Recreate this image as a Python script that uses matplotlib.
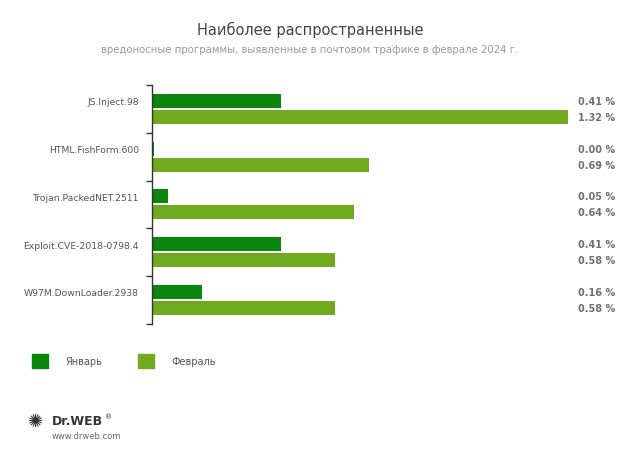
import matplotlib.pyplot as plt
import numpy as np
from matplotlib.patches import Patch

categories = ["JS.Inject.98", "HTML.FishForm.600", "Trojan.PackedNET.2511",
              "Exploit.CVE-2018-0798.4", "W97M.DownLoader.2938"]
jan = [0.41, 0.006, 0.05, 0.41, 0.16]
feb = [1.32, 0.69, 0.64, 0.58, 0.58]
jan_labels = ["0.41 %", "0.00 %", "0.05 %", "0.41 %", "0.16 %"]
feb_labels = ["1.32 %", "0.69 %", "0.64 %", "0.58 %", "0.58 %"]
series_names = ["Январь", "Февраль"]

c_jan = "#0b850b"
c_feb = "#6faa1f"

fig = plt.figure(figsize=(6.2, 4.56), dpi=100)
ax = fig.add_axes([152 / 620, 1 - 325 / 456, 416 / 620, 239 / 456])

y = np.arange(len(categories))
h = 0.29
ax.barh(y - 0.17, jan, height=h, color=c_jan)
ax.barh(y + 0.165, feb, height=h, color=c_feb)

ax.set_xlim(0, 1.32)
ax.set_ylim(len(categories) - 0.5, -0.5)

for s in ["top", "right", "bottom"]:
    ax.spines[s].set_visible(False)
ax.spines["left"].set_color("#333333")
ax.spines["left"].set_linewidth(1)
ax.set_xticks([])

# category names sit level with the January bar
ax.set_yticks(y - 0.17)
ax.set_yticklabels(categories, fontsize=6.7, color="#555555")
ax.tick_params(axis="y", which="major", length=0, pad=9.5)
ax.set_yticks(np.arange(-0.5, len(categories), 1), minor=True)
ax.tick_params(axis="y", which="minor", length=4, width=1, color="#333333")

tr = ax.get_yaxis_transform()
for i in range(len(categories)):
    ax.text(1.024, y[i] - 0.17, jan_labels[i], transform=tr, ha="left", va="center",
            fontsize=7, fontweight="bold", color="#707070", clip_on=False)
    ax.text(1.024, y[i] + 0.165, feb_labels[i], transform=tr, ha="left", va="center",
            fontsize=7, fontweight="bold", color="#707070", clip_on=False)

fig.text(0.5, 1 - 30 / 456, "Наиболее распространенные", ha="center", va="center",
         fontsize=10.5, color="#444444")
fig.text(0.5, 1 - 50 / 456,
         "вредоносные программы, выявленные в почтовом трафике в феврале 2024 г.",
         ha="center", va="center", fontsize=7.3, color="#999999")

handles = [Patch(color=c_jan), Patch(color=c_feb)]
fig.legend(handles, series_names, loc="upper left", bbox_to_anchor=(32 / 620, 1 - 355 / 456),
           ncol=2, frameon=False, fontsize=7, handlelength=1.65, handleheight=1.9,
           handletextpad=1.75, columnspacing=3.7, borderpad=0, borderaxespad=0,
           labelcolor="#555555")

# logo
fig.text(28 / 620, 1 - 422 / 456, "✺", fontsize=13, color="#333333", va="center", ha="left")
fig.text(52 / 620, 1 - 422 / 456, "Dr.WEB", fontsize=9, fontweight="bold",
         color="#333333", va="center", ha="left")
fig.text(105 / 620, 1 - 417 / 456, "®", fontsize=5, color="#333333", va="center", ha="left")
fig.text(52 / 620, 1 - 437 / 456, "www.drweb.com", fontsize=6, color="#666666",
         va="center", ha="left")

fig.savefig("out.png", dpi=100)
